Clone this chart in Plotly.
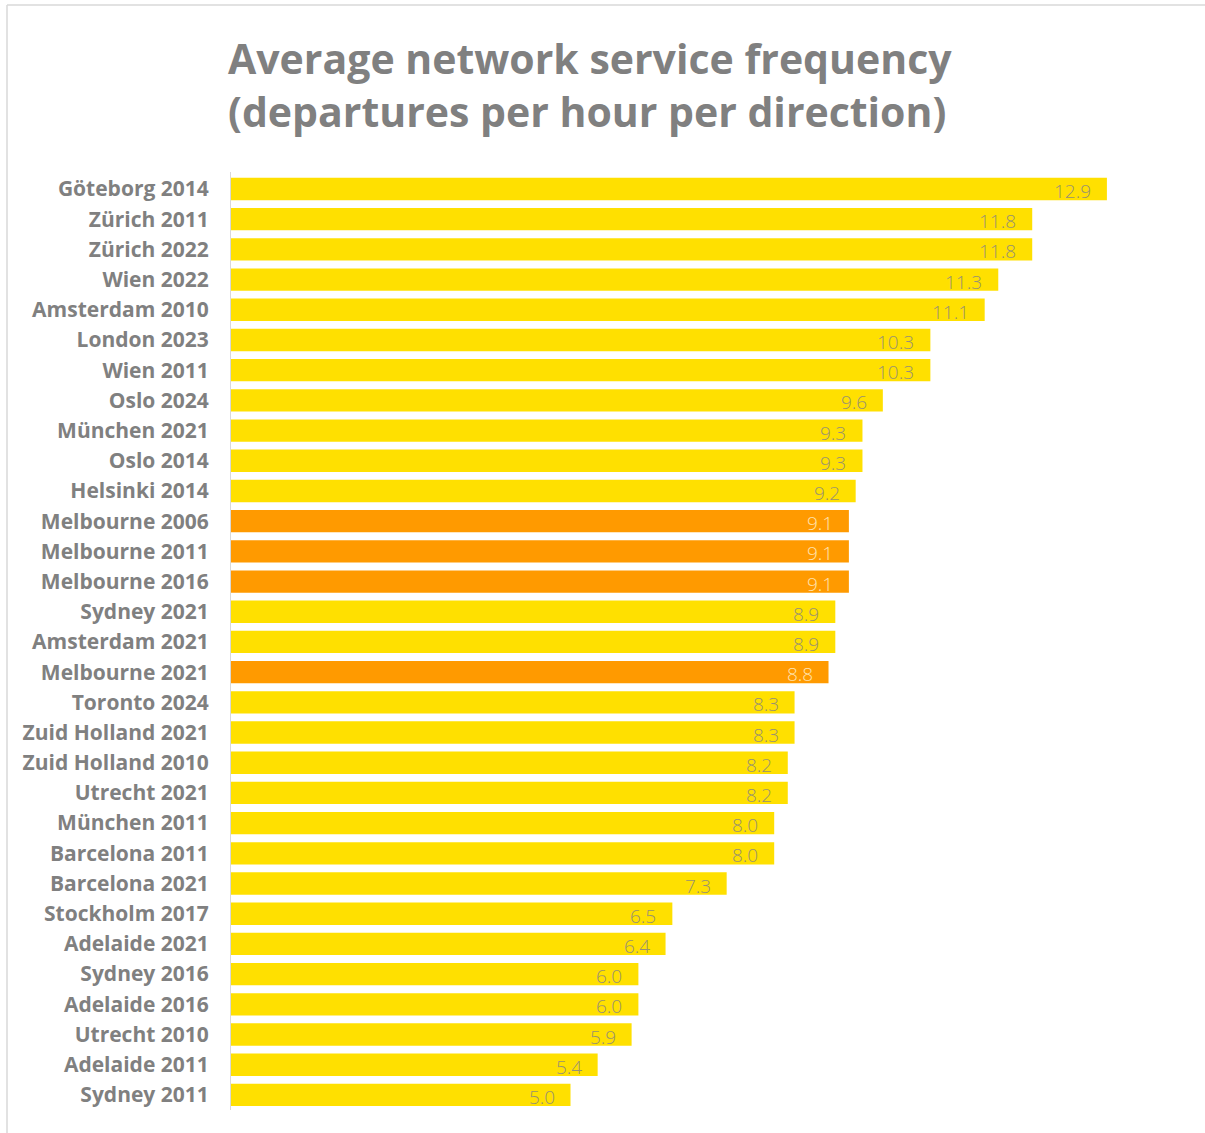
import plotly.graph_objects as go

# Networks, top to bottom, and their average service frequency
networks = [
    "Göteborg 2014", "Zürich 2011", "Zürich 2022", "Wien 2022", "Amsterdam 2010",
    "London 2023", "Wien 2011", "Oslo 2024", "München 2021", "Oslo 2014",
    "Helsinki 2014", "Melbourne 2006", "Melbourne 2011", "Melbourne 2016",
    "Sydney 2021", "Amsterdam 2021", "Melbourne 2021", "Toronto 2024",
    "Zuid Holland 2021", "Zuid Holland 2010", "Utrecht 2021", "München 2011",
    "Barcelona 2011", "Barcelona 2021", "Stockholm 2017", "Adelaide 2021",
    "Sydney 2016", "Adelaide 2016", "Utrecht 2010", "Adelaide 2011", "Sydney 2011",
]
frequency = [
    12.9, 11.8, 11.8, 11.3, 11.1,
    10.3, 10.3, 9.6, 9.3, 9.3,
    9.2, 9.1, 9.1, 9.1,
    8.9, 8.9, 8.8, 8.3,
    8.3, 8.2, 8.2, 8.0,
    8.0, 7.3, 6.5, 6.4,
    6.0, 6.0, 5.9, 5.4, 5.0,
]

YELLOW = "#FFE000"
ORANGE = "#FF9A00"
highlight = [n.startswith("Melbourne") for n in networks]
bar_colors = [ORANGE if h else YELLOW for h in highlight]

W, H = 1205, 1133
L, T, B, R = 231, 172, 23, 0
plot_w = W - L - R
x_max = plot_w / 67.9

fig = go.Figure(
    go.Bar(
        x=frequency,
        y=networks,
        orientation="h",
        marker=dict(color=bar_colors, line=dict(width=0)),
        hoverinfo="x+y",
    )
)

# value labels just inside the end of each bar
for name, val, h in zip(networks, frequency, highlight):
    fig.add_annotation(
        x=val, y=name, xref="x", yref="y",
        text=f"{val:.1f}", showarrow=False,
        xanchor="right", yanchor="middle", xshift=-14, yshift=-2,
        font=dict(family="Open Sans", size=19, weight=300,
                  color="#FFE3B0" if h else "#999270"),
    )

# frame lines along the top and left edges
y_top = 1 + (T - 5) / (H - T - B)
x_left = (7 - L) / plot_w
fig.add_shape(type="line", xref="paper", yref="paper",
              x0=x_left, x1=1.05, y0=y_top, y1=y_top,
              line=dict(color="#D9D9D9", width=1.5))
fig.add_shape(type="line", xref="paper", yref="paper",
              x0=x_left, x1=x_left, y0=y_top, y1=-0.05,
              line=dict(color="#D9D9D9", width=1.5))

fig.update_layout(
    width=W, height=H,
    margin=dict(l=L, r=R, t=T, b=B, pad=0),
    paper_bgcolor="white", plot_bgcolor="white",
    bargap=0.26,
    showlegend=False,
    title=dict(
        text="Average network service frequency<br>(departures per hour per direction)",
        xref="container", yref="container",
        x=228 / W, xanchor="left",
        y=1 - 74 / H, yanchor="middle",
        font=dict(family="Open Sans", size=41, weight=700, color="#808080"),
    ),
    xaxis=dict(range=[0, x_max], visible=False, fixedrange=True),
    yaxis=dict(
        categoryorder="array", categoryarray=networks, autorange="reversed",
        showline=True, linecolor="#D9D9D9", linewidth=1,
        showgrid=False, zeroline=False, ticks="",
        ticklabelstandoff=17,
        tickfont=dict(family="Open Sans", size=21, weight=700, color="#808080"),
    ),
)

fig.write_html("out.html")
